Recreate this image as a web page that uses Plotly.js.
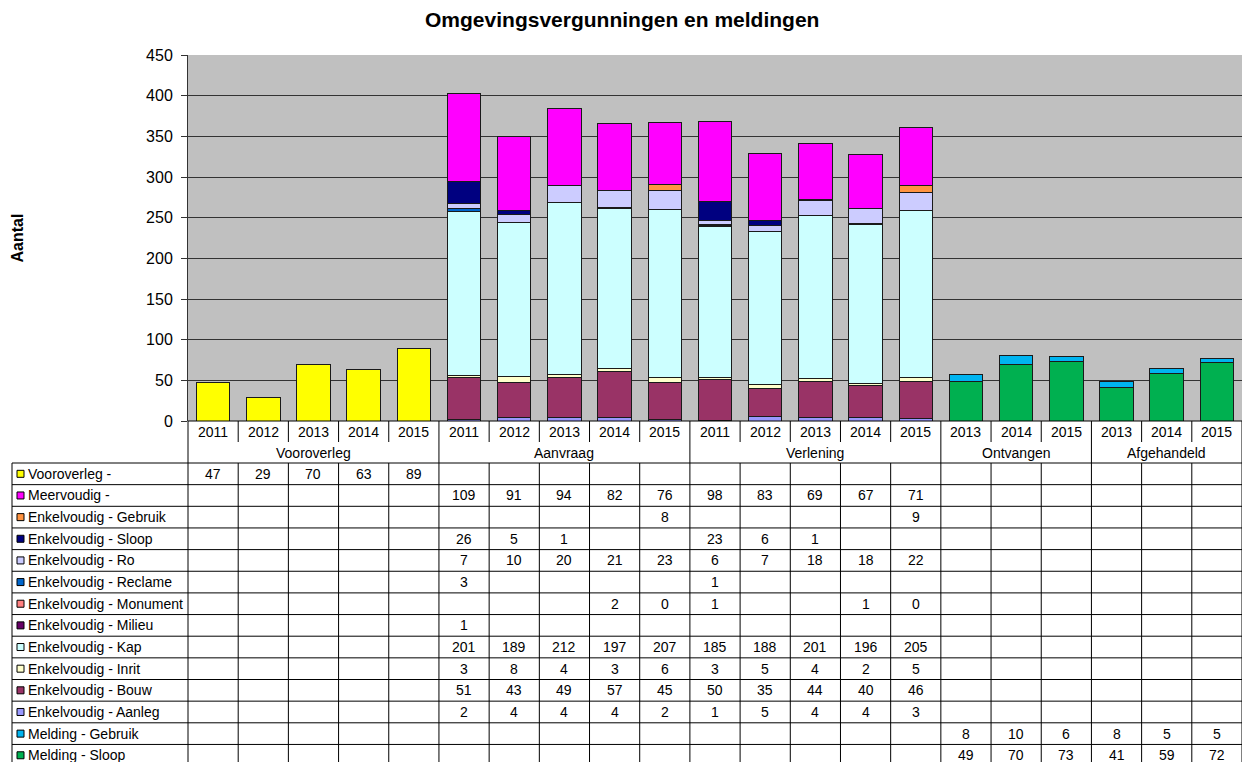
<!DOCTYPE html>
<html>
<head>
<meta charset="utf-8">
<script src="https://cdn.plot.ly/plotly-3.0.1.min.js"></script>
<style>html,body{margin:0;padding:0;background:#fff;}</style>
</head>
<body>
<div id="chart" style="width:1242px;height:762px;"></div>
<script>
// ---------- DATA ----------
const groups = ['Vooroverleg', 'Aanvraag', 'Verlening', 'Ontvangen', 'Afgehandeld'];
const groupOfCategory = [0,0,0,0,0, 1,1,1,1,1, 2,2,2,2,2, 3,3,3, 4,4,4];
const yearLabels = ['2011','2012','2013','2014','2015',
                    '2011','2012','2013','2014','2015',
                    '2011','2012','2013','2014','2015',
                    '2013','2014','2015',
                    '2013','2014','2015'];
const categories = yearLabels.map((y, i) => groups[groupOfCategory[i]] + ' ' + y);

const _ = null;
const vooroverleg     = [47,29,70,63,89, _,_,_,_,_, _,_,_,_,_, _,_,_, _,_,_];
const meervoudig      = [_,_,_,_,_, 109,91,94,82,76, 98,83,69,67,71, _,_,_, _,_,_];
const enkGebruik      = [_,_,_,_,_, _,_,_,_,8, _,_,_,_,9, _,_,_, _,_,_];
const enkSloop        = [_,_,_,_,_, 26,5,1,_,_, 23,6,1,_,_, _,_,_, _,_,_];
const enkRo           = [_,_,_,_,_, 7,10,20,21,23, 6,7,18,18,22, _,_,_, _,_,_];
const enkReclame      = [_,_,_,_,_, 3,_,_,_,_, 1,_,_,_,_, _,_,_, _,_,_];
const enkMonument     = [_,_,_,_,_, _,_,_,2,0, 1,_,_,1,0, _,_,_, _,_,_];
const enkMilieu       = [_,_,_,_,_, 1,_,_,_,_, _,_,_,_,_, _,_,_, _,_,_];
const enkKap          = [_,_,_,_,_, 201,189,212,197,207, 185,188,201,196,205, _,_,_, _,_,_];
const enkInrit        = [_,_,_,_,_, 3,8,4,3,6, 3,5,4,2,5, _,_,_, _,_,_];
const enkBouw         = [_,_,_,_,_, 51,43,49,57,45, 50,35,44,40,46, _,_,_, _,_,_];
const enkAanleg       = [_,_,_,_,_, 2,4,4,4,2, 1,5,4,4,3, _,_,_, _,_,_];
const meldingGebruik  = [_,_,_,_,_, _,_,_,_,_, _,_,_,_,_, 8,10,6, 8,5,5];
const meldingSloop    = [_,_,_,_,_, _,_,_,_,_, _,_,_,_,_, 49,70,73, 41,59,72];

const seriesNames = ['Vooroverleg -', 'Meervoudig -', 'Enkelvoudig - Gebruik', 'Enkelvoudig - Sloop',
  'Enkelvoudig - Ro', 'Enkelvoudig - Reclame', 'Enkelvoudig - Monument', 'Enkelvoudig - Milieu',
  'Enkelvoudig - Kap', 'Enkelvoudig - Inrit', 'Enkelvoudig - Bouw', 'Enkelvoudig - Aanleg',
  'Melding - Gebruik', 'Melding - Sloop'];
const seriesValues = [vooroverleg, meervoudig, enkGebruik, enkSloop, enkRo, enkReclame, enkMonument,
  enkMilieu, enkKap, enkInrit, enkBouw, enkAanleg, meldingGebruik, meldingSloop];

// ---------- STYLE ----------
const seriesColors = ['#FFFF00', '#FF00FF', '#FF9340', '#000080', '#CCCCFF', '#0066CC', '#FF8080',
  '#660066', '#CCFFFF', '#FFFFCC', '#993366', '#9999FF', '#00B4F0', '#00B050'];
const FONT = 'Liberation Sans, Arial, sans-serif';

// pixel geometry of the plot area
const PLOT_L = 188, PLOT_R = 1242, PLOT_T = 55, PLOT_B = 421;
const PH = PLOT_B - PLOT_T, PW = PLOT_R - PLOT_L;
const py = p => (PLOT_B - p) / PH;          // pixel y -> paper y
const px = p => (p - PLOT_L) / PW;          // pixel x -> paper x
const N = categories.length;
const colEdge = k => k / N;                 // paper x of column boundary k

const YEAR_ROW_B = 442, TABLE_T = 463, ROW_H = 21.65, TABLE_B = 762;
const LEG_L = 12;

// ---------- TRACES (stacked bottom -> top = table order reversed) ----------
const traces = [];
for (let s = seriesNames.length - 1; s >= 0; s--) {
  traces.push({
    type: 'bar', name: seriesNames[s], x: categories, y: seriesValues[s],
    marker: {color: seriesColors[s], line: {color: '#1a1a1a', width: 1}},
    hoverinfo: 'name+y'
  });
}

// ---------- TABLE (shapes + annotations) ----------
const shapes = [];
const annotations = [];
const line = (x0, y0, x1, y1) => shapes.push({type: 'line', xref: 'paper', yref: 'paper',
  x0: x0, y0: y0, x1: x1, y1: y1, line: {color: '#000000', width: 1}});

// top border of header (axis line at 0)
line(0, py(PLOT_B), 1, py(PLOT_B));
// column boundaries
for (let k = 0; k <= N; k++) {
  const isGroupEdge = k === 0 || k === N || groupOfCategory[k] !== groupOfCategory[k - 1];
  if (isGroupEdge) {
    line(colEdge(k), py(PLOT_B), colEdge(k), py(TABLE_B));
  } else {
    line(colEdge(k), py(PLOT_B), colEdge(k), py(YEAR_ROW_B));
    line(colEdge(k), py(TABLE_T), colEdge(k), py(TABLE_B));
  }
}
// legend column left border
line(px(LEG_L), py(TABLE_T), px(LEG_L), py(TABLE_B));
// row boundaries
for (let r = 0; r <= seriesNames.length; r++) {
  const yy = TABLE_T + r * ROW_H;
  line(px(LEG_L), py(yy), 1, py(yy));
}

// year labels
yearLabels.forEach((y, i) => annotations.push({
  xref: 'x', yref: 'paper', x: i, y: py(432), text: y, showarrow: false,
  xanchor: 'center', yanchor: 'middle', font: {family: FONT, size: 14, color: '#000'}
}));
// group labels
groups.forEach((g, gi) => {
  const idx = groupOfCategory.map((v, i) => v === gi ? i : -1).filter(i => i >= 0);
  const mid = (idx[0] + idx[idx.length - 1]) / 2;
  annotations.push({xref: 'x', yref: 'paper', x: mid, y: py(452.5), text: g, showarrow: false,
    xanchor: 'center', yanchor: 'middle', font: {family: FONT, size: 14, color: '#000'}});
});

// data rows
seriesNames.forEach((name, r) => {
  const cy = TABLE_T + r * ROW_H + ROW_H / 2;
  shapes.push({type: 'rect', xref: 'paper', yref: 'paper',
    x0: px(17), x1: px(24), y0: py(cy - 3.5), y1: py(cy + 3.5),
    fillcolor: seriesColors[r], line: {color: '#000000', width: 1}});
  annotations.push({xref: 'paper', yref: 'paper', x: px(26), y: py(cy), text: name,
    showarrow: false, xanchor: 'left', yanchor: 'middle',
    font: {family: FONT, size: 14, color: '#000'}});
  seriesValues[r].forEach((v, i) => {
    if (v === null) return;
    annotations.push({xref: 'x', yref: 'paper', x: i, y: py(cy), text: String(v),
      showarrow: false, xanchor: 'center', yanchor: 'middle',
      font: {family: FONT, size: 14, color: '#000'}});
  });
});

// ---------- LAYOUT ----------
const layout = {
  width: 1242, height: 762,
  margin: {l: PLOT_L, r: 1242 - PLOT_R, t: PLOT_T, b: 762 - PLOT_B, pad: 0},
  paper_bgcolor: '#FFFFFF', plot_bgcolor: '#C0C0C0',
  barmode: 'stack', bargap: 0.333,
  showlegend: false,
  font: {family: FONT, color: '#000'},
  title: {text: 'Omgevingsvergunningen en meldingen', xref: 'container', x: 0.501,
    yref: 'container', y: 1 - 20 / 762, yanchor: 'middle', xanchor: 'center',
    font: {family: FONT, size: 21, weight: 'bold', color: '#000'}},
  xaxis: {type: 'category', categoryorder: 'array', categoryarray: categories,
    range: [-0.5, N - 0.5], showticklabels: false, ticks: '', showgrid: false,
    zeroline: false, showline: false, fixedrange: true},
  yaxis: {range: [0, 450], dtick: 50, tick0: 0, showgrid: true, gridcolor: '#333333', gridwidth: 1,
    zeroline: false, showline: true, linecolor: '#333333', linewidth: 1,
    ticks: 'outside', ticklen: 6, tickcolor: '#333333', ticklabelstandoff: 5,
    tickfont: {family: FONT, size: 16, color: '#000'},
    title: {text: 'Aantal', standoff: 118, font: {family: FONT, size: 16, weight: 'bold', color: '#000'}},
    automargin: false, fixedrange: true},
  shapes: shapes,
  annotations: annotations
};

Plotly.newPlot('chart', traces, layout, {displayModeBar: false, staticPlot: true});
</script>
</body>
</html>
